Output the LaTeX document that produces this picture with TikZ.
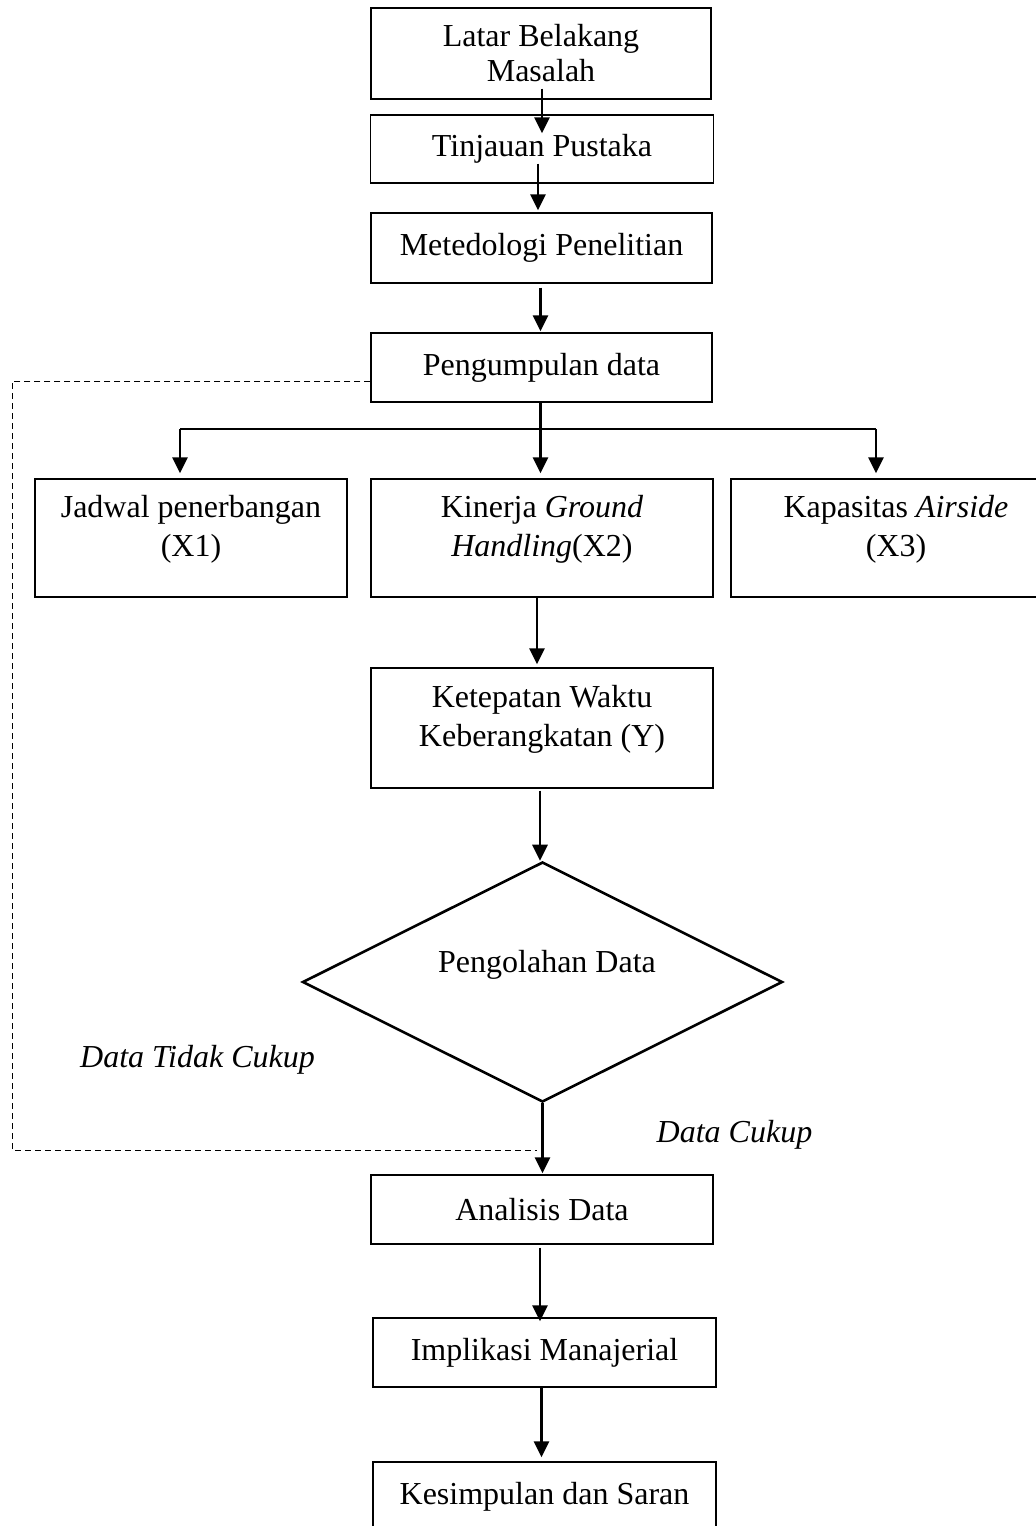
\documentclass[tikz,border=0pt]{standalone}
\usepackage{fontspec}
\setmainfont{Liberation Serif}
\usetikzlibrary{arrows.meta,shapes.geometric}
\newcommand\figfont{\fontsize{16}{17.5}\selectfont}
\newcommand\figfontw{\fontsize{16}{19.5}\selectfont}
\begin{document}
\begin{tikzpicture}[x=0.5pt,y=-0.5pt,
  box/.style={draw, line width=0.7pt, inner sep=0pt, font=\figfont, align=center},
  txt/.style={inner sep=0pt, font=\figfontw, align=center},
  arr/.style={line width=1.4pt, -{Triangle[length=8pt,width=7.5pt]}},
  dsh/.style={line width=0.5pt, dash pattern=on 3pt off 2pt}]
\useasboundingbox (0,0) rectangle (1035,1526);
% main column
\node[box, minimum width=170pt, minimum height=45.5pt] (b1) at (541,53.5) {Latar Belakang\\Masalah};
\node[box, minimum width=171.5pt, minimum height=34pt] (b2) at (542,149) {Tinjauan Pustaka};
\node[box, minimum width=170.5pt, minimum height=35pt] (b3) at (541.5,248) {Metedologi Penelitian};
\node[box, minimum width=170.5pt, minimum height=34.5pt] (b4) at (541.5,367.5) {Pengumpulan data};
% three variables
\node[box, minimum width=156pt, minimum height=59pt] (x1) at (191,538) {};
\node[txt] (t1) at (191,529) {Jadwal penerbangan\\(X1)};
\node[box, minimum width=171pt, minimum height=59pt] (x2) at (542,538) {};
\node[txt] (t2) at (542,529) {Kinerja \textit{Ground}\\\textit{Handling}(X2)};
\node[box, minimum width=165pt, minimum height=59pt] (x3) at (896,538) {};
\node[txt] (t3) at (896,529) {Kapasitas \textit{Airside}\\(X3)};
% Y
\node[box, minimum width=171pt, minimum height=60pt] (yb) at (542,728) {};
\node[txt] (ty) at (542,719) {Ketepatan Waktu\\Keberangkatan (Y)};
% diamond
\node[draw, diamond, line width=1.3pt, inner sep=0pt, minimum width=240pt, minimum height=120pt] (d) at (542.5,982) {};
\node[txt] (td) at (547,965) {Pengolahan Data};
% lower boxes
\node[box, minimum width=171pt, minimum height=34.5pt] (an) at (542,1209.5) {Analisis Data};
\node[box, minimum width=171.5pt, minimum height=34.5pt] (im) at (544.5,1352.5) {Implikasi Manajerial};
\node[box, minimum width=171.5pt, minimum height=34.5pt] (ks) at (544.5,1496.5) {Kesimpulan dan Saran};
% labels
\node[txt] (lt) at (197.5,1060) {\textit{Data Tidak Cukup}};
\node[txt] (lc) at (734.5,1135) {\textit{Data Cukup}};
% arrows main column
\draw[arr] ([yshift=5.5pt,xshift=0.5pt]b1.south) -- ([yshift=-9.5pt,xshift=0.5pt]b1.south |- b2.north);
\draw[arr] ([yshift=10pt,xshift=-2pt]b2.south) -- ([yshift=1pt,xshift=-2pt]b2.south |- b3.north);
\draw[arr] ([yshift=-2pt,xshift=-0.5pt]b3.south) -- ([yshift=0.5pt,xshift=-0.5pt]b3.south |- b4.north);
% branching
\coordinate (bl) at (180,429);
\coordinate (br) at (876,429);
\draw[line width=1pt] (bl) -- (br);
\draw[arr] ([xshift=-0.5pt]b4.south) -- ([yshift=2.5pt,xshift=-0.5pt]b4.south |- x2.north);
\draw[arr] (bl) -- ([yshift=2.5pt]bl |- x1.north);
\draw[arr] (br) -- ([yshift=2.5pt]br |- x3.north);
\draw[arr] ([xshift=-2.5pt]x2.south) -- ([yshift=1.5pt,xshift=-2.5pt]x2.south |- yb.north);
\draw[arr] ([yshift=-1pt,xshift=-1pt]yb.south) -- ([xshift=-1pt]yb.south |- d.north);
\draw[arr] (d.south) -- ([yshift=0.5pt]d.south |- an.north);
\draw[arr] ([yshift=-1.5pt,xshift=-1pt]an.south) -- ([yshift=-2pt,xshift=-1pt]an.south |- im.north);
\draw[arr] ([xshift=-1.5pt]im.south) -- ([yshift=2pt,xshift=-1.5pt]im.south |- ks.north);
% dashed feedback
\coordinate (dl) at (12,1150);
\coordinate (dc) at (537,1150);
\draw[dsh] ([yshift=-7pt]b4.west) -| (dl) -- (dc);
\end{tikzpicture}
\end{document}
